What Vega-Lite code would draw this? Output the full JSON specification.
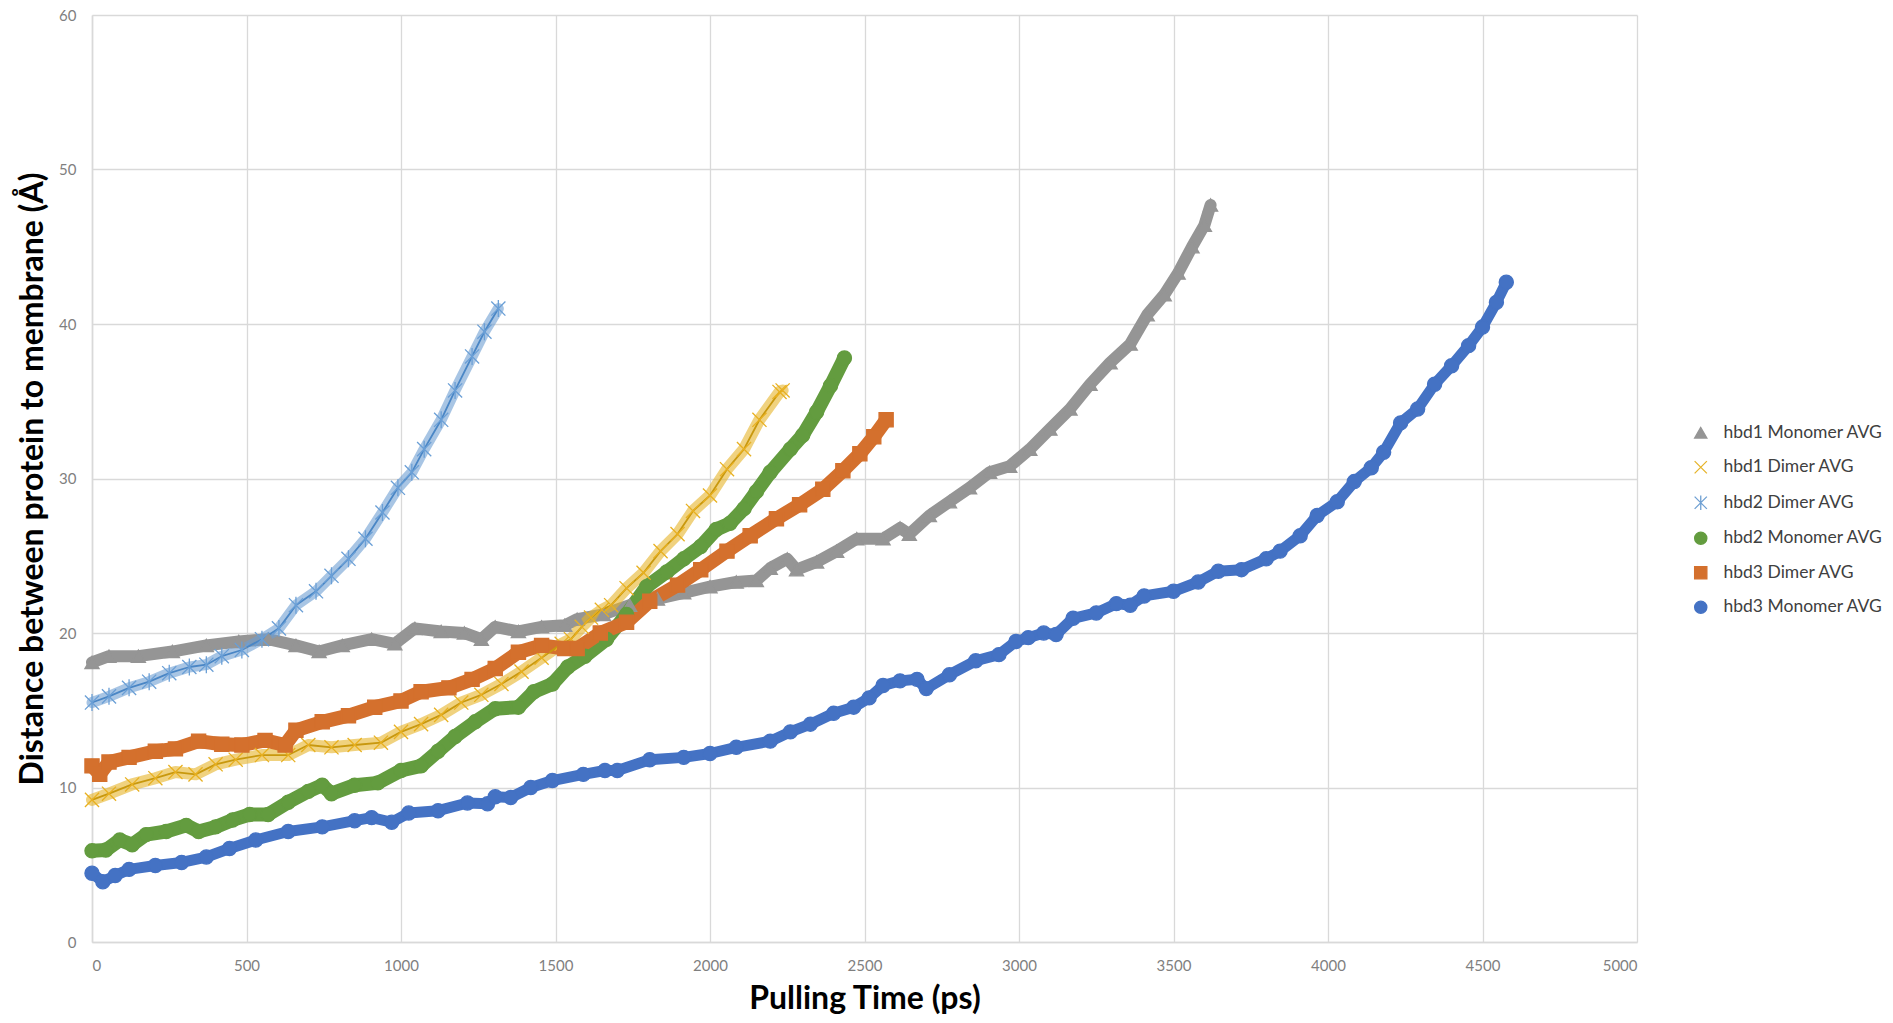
{
  "$schema": "https://vega.github.io/schema/vega-lite/v6.json",
  "autosize": {"type": "none"},
  "width": 1545,
  "height": 927,
  "padding": {"left": 92, "top": 15, "right": 256, "bottom": 81},
  "background": "white",
  "config": {
    "view": {"stroke": null},
    "font": "Lato",
    "legend": {"labelFont": "Lato", "labelFontSize": 17, "labelColor": "#404040", "symbolOpacity": 1}
  },
  "data": {
    "values": [
      {"series": "hbd1 Monomer AVG", "time": 0, "distance": 18.1},
      {"series": "hbd1 Monomer AVG", "time": 55, "distance": 18.5},
      {"series": "hbd1 Monomer AVG", "time": 150, "distance": 18.5},
      {"series": "hbd1 Monomer AVG", "time": 260, "distance": 18.8},
      {"series": "hbd1 Monomer AVG", "time": 370, "distance": 19.2},
      {"series": "hbd1 Monomer AVG", "time": 475, "distance": 19.45},
      {"series": "hbd1 Monomer AVG", "time": 570, "distance": 19.6},
      {"series": "hbd1 Monomer AVG", "time": 660, "distance": 19.2},
      {"series": "hbd1 Monomer AVG", "time": 735, "distance": 18.8},
      {"series": "hbd1 Monomer AVG", "time": 810, "distance": 19.2},
      {"series": "hbd1 Monomer AVG", "time": 905, "distance": 19.6},
      {"series": "hbd1 Monomer AVG", "time": 980, "distance": 19.3},
      {"series": "hbd1 Monomer AVG", "time": 1045, "distance": 20.3},
      {"series": "hbd1 Monomer AVG", "time": 1130, "distance": 20.1},
      {"series": "hbd1 Monomer AVG", "time": 1205, "distance": 20.0},
      {"series": "hbd1 Monomer AVG", "time": 1260, "distance": 19.6},
      {"series": "hbd1 Monomer AVG", "time": 1305, "distance": 20.4},
      {"series": "hbd1 Monomer AVG", "time": 1380, "distance": 20.1},
      {"series": "hbd1 Monomer AVG", "time": 1455, "distance": 20.4},
      {"series": "hbd1 Monomer AVG", "time": 1530, "distance": 20.5},
      {"series": "hbd1 Monomer AVG", "time": 1570, "distance": 20.9},
      {"series": "hbd1 Monomer AVG", "time": 1655, "distance": 21.2},
      {"series": "hbd1 Monomer AVG", "time": 1740, "distance": 21.8},
      {"series": "hbd1 Monomer AVG", "time": 1830, "distance": 22.2},
      {"series": "hbd1 Monomer AVG", "time": 1915, "distance": 22.6},
      {"series": "hbd1 Monomer AVG", "time": 2000, "distance": 23.0},
      {"series": "hbd1 Monomer AVG", "time": 2085, "distance": 23.3},
      {"series": "hbd1 Monomer AVG", "time": 2150, "distance": 23.4},
      {"series": "hbd1 Monomer AVG", "time": 2195, "distance": 24.2},
      {"series": "hbd1 Monomer AVG", "time": 2250, "distance": 24.8},
      {"series": "hbd1 Monomer AVG", "time": 2280, "distance": 24.1},
      {"series": "hbd1 Monomer AVG", "time": 2345, "distance": 24.6},
      {"series": "hbd1 Monomer AVG", "time": 2410, "distance": 25.3},
      {"series": "hbd1 Monomer AVG", "time": 2475, "distance": 26.1},
      {"series": "hbd1 Monomer AVG", "time": 2560, "distance": 26.1},
      {"series": "hbd1 Monomer AVG", "time": 2615, "distance": 26.8},
      {"series": "hbd1 Monomer AVG", "time": 2645, "distance": 26.4},
      {"series": "hbd1 Monomer AVG", "time": 2710, "distance": 27.6},
      {"series": "hbd1 Monomer AVG", "time": 2775, "distance": 28.5},
      {"series": "hbd1 Monomer AVG", "time": 2840, "distance": 29.4},
      {"series": "hbd1 Monomer AVG", "time": 2905, "distance": 30.4},
      {"series": "hbd1 Monomer AVG", "time": 2970, "distance": 30.8},
      {"series": "hbd1 Monomer AVG", "time": 3035, "distance": 31.9},
      {"series": "hbd1 Monomer AVG", "time": 3100, "distance": 33.2},
      {"series": "hbd1 Monomer AVG", "time": 3165, "distance": 34.5},
      {"series": "hbd1 Monomer AVG", "time": 3230, "distance": 36.1},
      {"series": "hbd1 Monomer AVG", "time": 3295, "distance": 37.5},
      {"series": "hbd1 Monomer AVG", "time": 3360, "distance": 38.7},
      {"series": "hbd1 Monomer AVG", "time": 3415, "distance": 40.6},
      {"series": "hbd1 Monomer AVG", "time": 3470, "distance": 41.9},
      {"series": "hbd1 Monomer AVG", "time": 3515, "distance": 43.3},
      {"series": "hbd1 Monomer AVG", "time": 3560, "distance": 45.0},
      {"series": "hbd1 Monomer AVG", "time": 3600, "distance": 46.4},
      {"series": "hbd1 Monomer AVG", "time": 3620, "distance": 47.7},

      {"series": "hbd1 Dimer AVG", "time": 0, "distance": 9.2},
      {"series": "hbd1 Dimer AVG", "time": 55, "distance": 9.6},
      {"series": "hbd1 Dimer AVG", "time": 130, "distance": 10.2},
      {"series": "hbd1 Dimer AVG", "time": 205, "distance": 10.6},
      {"series": "hbd1 Dimer AVG", "time": 270, "distance": 11.0},
      {"series": "hbd1 Dimer AVG", "time": 335, "distance": 10.85},
      {"series": "hbd1 Dimer AVG", "time": 400, "distance": 11.5},
      {"series": "hbd1 Dimer AVG", "time": 465, "distance": 11.8},
      {"series": "hbd1 Dimer AVG", "time": 550, "distance": 12.1},
      {"series": "hbd1 Dimer AVG", "time": 635, "distance": 12.1},
      {"series": "hbd1 Dimer AVG", "time": 700, "distance": 12.75},
      {"series": "hbd1 Dimer AVG", "time": 775, "distance": 12.6},
      {"series": "hbd1 Dimer AVG", "time": 850, "distance": 12.75},
      {"series": "hbd1 Dimer AVG", "time": 935, "distance": 12.9},
      {"series": "hbd1 Dimer AVG", "time": 1000, "distance": 13.6},
      {"series": "hbd1 Dimer AVG", "time": 1065, "distance": 14.1},
      {"series": "hbd1 Dimer AVG", "time": 1130, "distance": 14.7},
      {"series": "hbd1 Dimer AVG", "time": 1195, "distance": 15.5},
      {"series": "hbd1 Dimer AVG", "time": 1260, "distance": 16.0},
      {"series": "hbd1 Dimer AVG", "time": 1325, "distance": 16.7},
      {"series": "hbd1 Dimer AVG", "time": 1390, "distance": 17.5},
      {"series": "hbd1 Dimer AVG", "time": 1455, "distance": 18.4},
      {"series": "hbd1 Dimer AVG", "time": 1520, "distance": 19.3},
      {"series": "hbd1 Dimer AVG", "time": 1550, "distance": 19.6},
      {"series": "hbd1 Dimer AVG", "time": 1585, "distance": 20.4},
      {"series": "hbd1 Dimer AVG", "time": 1615, "distance": 21.0},
      {"series": "hbd1 Dimer AVG", "time": 1650, "distance": 21.5},
      {"series": "hbd1 Dimer AVG", "time": 1680, "distance": 21.8},
      {"series": "hbd1 Dimer AVG", "time": 1730, "distance": 22.9},
      {"series": "hbd1 Dimer AVG", "time": 1785, "distance": 23.9},
      {"series": "hbd1 Dimer AVG", "time": 1840, "distance": 25.3},
      {"series": "hbd1 Dimer AVG", "time": 1895, "distance": 26.4},
      {"series": "hbd1 Dimer AVG", "time": 1945, "distance": 27.9},
      {"series": "hbd1 Dimer AVG", "time": 2000, "distance": 28.9},
      {"series": "hbd1 Dimer AVG", "time": 2055, "distance": 30.6},
      {"series": "hbd1 Dimer AVG", "time": 2110, "distance": 31.9},
      {"series": "hbd1 Dimer AVG", "time": 2160, "distance": 33.8},
      {"series": "hbd1 Dimer AVG", "time": 2225, "distance": 35.6},
      {"series": "hbd1 Dimer AVG", "time": 2235, "distance": 35.7},

      {"series": "hbd2 Dimer AVG", "time": 0, "distance": 15.5},
      {"series": "hbd2 Dimer AVG", "time": 55, "distance": 15.9},
      {"series": "hbd2 Dimer AVG", "time": 120, "distance": 16.45},
      {"series": "hbd2 Dimer AVG", "time": 185, "distance": 16.85},
      {"series": "hbd2 Dimer AVG", "time": 250, "distance": 17.4},
      {"series": "hbd2 Dimer AVG", "time": 315, "distance": 17.8},
      {"series": "hbd2 Dimer AVG", "time": 370, "distance": 17.95},
      {"series": "hbd2 Dimer AVG", "time": 420, "distance": 18.5},
      {"series": "hbd2 Dimer AVG", "time": 485, "distance": 18.9},
      {"series": "hbd2 Dimer AVG", "time": 550, "distance": 19.6},
      {"series": "hbd2 Dimer AVG", "time": 605, "distance": 20.3},
      {"series": "hbd2 Dimer AVG", "time": 660, "distance": 21.8},
      {"series": "hbd2 Dimer AVG", "time": 725, "distance": 22.7},
      {"series": "hbd2 Dimer AVG", "time": 775, "distance": 23.7},
      {"series": "hbd2 Dimer AVG", "time": 830, "distance": 24.8},
      {"series": "hbd2 Dimer AVG", "time": 885, "distance": 26.1},
      {"series": "hbd2 Dimer AVG", "time": 940, "distance": 27.8},
      {"series": "hbd2 Dimer AVG", "time": 990, "distance": 29.4},
      {"series": "hbd2 Dimer AVG", "time": 1035, "distance": 30.4},
      {"series": "hbd2 Dimer AVG", "time": 1075, "distance": 31.9},
      {"series": "hbd2 Dimer AVG", "time": 1130, "distance": 33.8},
      {"series": "hbd2 Dimer AVG", "time": 1175, "distance": 35.7},
      {"series": "hbd2 Dimer AVG", "time": 1230, "distance": 37.9},
      {"series": "hbd2 Dimer AVG", "time": 1270, "distance": 39.5},
      {"series": "hbd2 Dimer AVG", "time": 1315, "distance": 41.0},

      {"series": "hbd2 Monomer AVG", "time": 0, "distance": 5.9},
      {"series": "hbd2 Monomer AVG", "time": 45, "distance": 5.95},
      {"series": "hbd2 Monomer AVG", "time": 90, "distance": 6.6},
      {"series": "hbd2 Monomer AVG", "time": 130, "distance": 6.3},
      {"series": "hbd2 Monomer AVG", "time": 175, "distance": 6.95},
      {"series": "hbd2 Monomer AVG", "time": 240, "distance": 7.15},
      {"series": "hbd2 Monomer AVG", "time": 305, "distance": 7.55},
      {"series": "hbd2 Monomer AVG", "time": 345, "distance": 7.15},
      {"series": "hbd2 Monomer AVG", "time": 400, "distance": 7.45},
      {"series": "hbd2 Monomer AVG", "time": 455, "distance": 7.9},
      {"series": "hbd2 Monomer AVG", "time": 510, "distance": 8.25},
      {"series": "hbd2 Monomer AVG", "time": 570, "distance": 8.25},
      {"series": "hbd2 Monomer AVG", "time": 635, "distance": 9.05},
      {"series": "hbd2 Monomer AVG", "time": 700, "distance": 9.75},
      {"series": "hbd2 Monomer AVG", "time": 745, "distance": 10.15},
      {"series": "hbd2 Monomer AVG", "time": 775, "distance": 9.6},
      {"series": "hbd2 Monomer AVG", "time": 850, "distance": 10.15},
      {"series": "hbd2 Monomer AVG", "time": 925, "distance": 10.3},
      {"series": "hbd2 Monomer AVG", "time": 1000, "distance": 11.1},
      {"series": "hbd2 Monomer AVG", "time": 1065, "distance": 11.4},
      {"series": "hbd2 Monomer AVG", "time": 1120, "distance": 12.35},
      {"series": "hbd2 Monomer AVG", "time": 1175, "distance": 13.3},
      {"series": "hbd2 Monomer AVG", "time": 1240, "distance": 14.25},
      {"series": "hbd2 Monomer AVG", "time": 1305, "distance": 15.1},
      {"series": "hbd2 Monomer AVG", "time": 1380, "distance": 15.2},
      {"series": "hbd2 Monomer AVG", "time": 1430, "distance": 16.2},
      {"series": "hbd2 Monomer AVG", "time": 1490, "distance": 16.7},
      {"series": "hbd2 Monomer AVG", "time": 1540, "distance": 17.8},
      {"series": "hbd2 Monomer AVG", "time": 1595, "distance": 18.5},
      {"series": "hbd2 Monomer AVG", "time": 1665, "distance": 19.6},
      {"series": "hbd2 Monomer AVG", "time": 1730, "distance": 21.2},
      {"series": "hbd2 Monomer AVG", "time": 1795, "distance": 23.0},
      {"series": "hbd2 Monomer AVG", "time": 1860, "distance": 23.95},
      {"series": "hbd2 Monomer AVG", "time": 1915, "distance": 24.8},
      {"series": "hbd2 Monomer AVG", "time": 1970, "distance": 25.6},
      {"series": "hbd2 Monomer AVG", "time": 2020, "distance": 26.7},
      {"series": "hbd2 Monomer AVG", "time": 2065, "distance": 27.1},
      {"series": "hbd2 Monomer AVG", "time": 2110, "distance": 28.05},
      {"series": "hbd2 Monomer AVG", "time": 2150, "distance": 29.15},
      {"series": "hbd2 Monomer AVG", "time": 2195, "distance": 30.4},
      {"series": "hbd2 Monomer AVG", "time": 2260, "distance": 31.9},
      {"series": "hbd2 Monomer AVG", "time": 2300, "distance": 32.8},
      {"series": "hbd2 Monomer AVG", "time": 2345, "distance": 34.3},
      {"series": "hbd2 Monomer AVG", "time": 2390, "distance": 36.0},
      {"series": "hbd2 Monomer AVG", "time": 2435, "distance": 37.8},

      {"series": "hbd3 Dimer AVG", "time": 0, "distance": 11.4},
      {"series": "hbd3 Dimer AVG", "time": 25, "distance": 10.85},
      {"series": "hbd3 Dimer AVG", "time": 55, "distance": 11.65},
      {"series": "hbd3 Dimer AVG", "time": 120, "distance": 11.95},
      {"series": "hbd3 Dimer AVG", "time": 205, "distance": 12.35},
      {"series": "hbd3 Dimer AVG", "time": 270, "distance": 12.5},
      {"series": "hbd3 Dimer AVG", "time": 345, "distance": 13.0},
      {"series": "hbd3 Dimer AVG", "time": 420, "distance": 12.8},
      {"series": "hbd3 Dimer AVG", "time": 485, "distance": 12.75},
      {"series": "hbd3 Dimer AVG", "time": 560, "distance": 13.05},
      {"series": "hbd3 Dimer AVG", "time": 625, "distance": 12.75},
      {"series": "hbd3 Dimer AVG", "time": 660, "distance": 13.7},
      {"series": "hbd3 Dimer AVG", "time": 745, "distance": 14.25},
      {"series": "hbd3 Dimer AVG", "time": 830, "distance": 14.65},
      {"series": "hbd3 Dimer AVG", "time": 915, "distance": 15.2},
      {"series": "hbd3 Dimer AVG", "time": 1000, "distance": 15.6},
      {"series": "hbd3 Dimer AVG", "time": 1065, "distance": 16.2},
      {"series": "hbd3 Dimer AVG", "time": 1155, "distance": 16.45},
      {"series": "hbd3 Dimer AVG", "time": 1230, "distance": 17.0},
      {"series": "hbd3 Dimer AVG", "time": 1305, "distance": 17.7},
      {"series": "hbd3 Dimer AVG", "time": 1380, "distance": 18.75},
      {"series": "hbd3 Dimer AVG", "time": 1455, "distance": 19.2},
      {"series": "hbd3 Dimer AVG", "time": 1530, "distance": 19.0},
      {"series": "hbd3 Dimer AVG", "time": 1570, "distance": 19.0},
      {"series": "hbd3 Dimer AVG", "time": 1645, "distance": 20.0},
      {"series": "hbd3 Dimer AVG", "time": 1730, "distance": 20.7},
      {"series": "hbd3 Dimer AVG", "time": 1805, "distance": 22.05},
      {"series": "hbd3 Dimer AVG", "time": 1895, "distance": 23.1},
      {"series": "hbd3 Dimer AVG", "time": 1970, "distance": 24.1},
      {"series": "hbd3 Dimer AVG", "time": 2055, "distance": 25.3},
      {"series": "hbd3 Dimer AVG", "time": 2130, "distance": 26.3},
      {"series": "hbd3 Dimer AVG", "time": 2215, "distance": 27.4},
      {"series": "hbd3 Dimer AVG", "time": 2290, "distance": 28.3},
      {"series": "hbd3 Dimer AVG", "time": 2365, "distance": 29.3},
      {"series": "hbd3 Dimer AVG", "time": 2430, "distance": 30.5},
      {"series": "hbd3 Dimer AVG", "time": 2485, "distance": 31.6},
      {"series": "hbd3 Dimer AVG", "time": 2530, "distance": 32.7},
      {"series": "hbd3 Dimer AVG", "time": 2570, "distance": 33.8},

      {"series": "hbd3 Monomer AVG", "time": 0, "distance": 4.45},
      {"series": "hbd3 Monomer AVG", "time": 35, "distance": 3.9},
      {"series": "hbd3 Monomer AVG", "time": 75, "distance": 4.3},
      {"series": "hbd3 Monomer AVG", "time": 120, "distance": 4.7},
      {"series": "hbd3 Monomer AVG", "time": 205, "distance": 4.95},
      {"series": "hbd3 Monomer AVG", "time": 290, "distance": 5.15},
      {"series": "hbd3 Monomer AVG", "time": 370, "distance": 5.5},
      {"series": "hbd3 Monomer AVG", "time": 445, "distance": 6.05},
      {"series": "hbd3 Monomer AVG", "time": 530, "distance": 6.6},
      {"series": "hbd3 Monomer AVG", "time": 635, "distance": 7.15},
      {"series": "hbd3 Monomer AVG", "time": 745, "distance": 7.45},
      {"series": "hbd3 Monomer AVG", "time": 850, "distance": 7.85},
      {"series": "hbd3 Monomer AVG", "time": 905, "distance": 8.05},
      {"series": "hbd3 Monomer AVG", "time": 970, "distance": 7.75},
      {"series": "hbd3 Monomer AVG", "time": 1025, "distance": 8.35},
      {"series": "hbd3 Monomer AVG", "time": 1120, "distance": 8.5},
      {"series": "hbd3 Monomer AVG", "time": 1215, "distance": 9.0},
      {"series": "hbd3 Monomer AVG", "time": 1280, "distance": 8.95},
      {"series": "hbd3 Monomer AVG", "time": 1305, "distance": 9.4},
      {"series": "hbd3 Monomer AVG", "time": 1355, "distance": 9.35},
      {"series": "hbd3 Monomer AVG", "time": 1420, "distance": 10.0},
      {"series": "hbd3 Monomer AVG", "time": 1490, "distance": 10.45},
      {"series": "hbd3 Monomer AVG", "time": 1590, "distance": 10.85},
      {"series": "hbd3 Monomer AVG", "time": 1660, "distance": 11.1},
      {"series": "hbd3 Monomer AVG", "time": 1700, "distance": 11.1},
      {"series": "hbd3 Monomer AVG", "time": 1805, "distance": 11.8},
      {"series": "hbd3 Monomer AVG", "time": 1915, "distance": 11.95},
      {"series": "hbd3 Monomer AVG", "time": 2000, "distance": 12.2},
      {"series": "hbd3 Monomer AVG", "time": 2085, "distance": 12.6},
      {"series": "hbd3 Monomer AVG", "time": 2195, "distance": 13.0},
      {"series": "hbd3 Monomer AVG", "time": 2260, "distance": 13.6},
      {"series": "hbd3 Monomer AVG", "time": 2325, "distance": 14.1},
      {"series": "hbd3 Monomer AVG", "time": 2400, "distance": 14.8},
      {"series": "hbd3 Monomer AVG", "time": 2465, "distance": 15.2},
      {"series": "hbd3 Monomer AVG", "time": 2515, "distance": 15.8},
      {"series": "hbd3 Monomer AVG", "time": 2560, "distance": 16.6},
      {"series": "hbd3 Monomer AVG", "time": 2615, "distance": 16.9},
      {"series": "hbd3 Monomer AVG", "time": 2670, "distance": 17.0},
      {"series": "hbd3 Monomer AVG", "time": 2700, "distance": 16.4},
      {"series": "hbd3 Monomer AVG", "time": 2775, "distance": 17.3},
      {"series": "hbd3 Monomer AVG", "time": 2860, "distance": 18.2},
      {"series": "hbd3 Monomer AVG", "time": 2935, "distance": 18.6},
      {"series": "hbd3 Monomer AVG", "time": 2990, "distance": 19.45},
      {"series": "hbd3 Monomer AVG", "time": 3030, "distance": 19.7},
      {"series": "hbd3 Monomer AVG", "time": 3080, "distance": 20.0},
      {"series": "hbd3 Monomer AVG", "time": 3120, "distance": 19.9},
      {"series": "hbd3 Monomer AVG", "time": 3175, "distance": 20.95},
      {"series": "hbd3 Monomer AVG", "time": 3250, "distance": 21.3},
      {"series": "hbd3 Monomer AVG", "time": 3315, "distance": 21.9},
      {"series": "hbd3 Monomer AVG", "time": 3360, "distance": 21.8},
      {"series": "hbd3 Monomer AVG", "time": 3405, "distance": 22.4},
      {"series": "hbd3 Monomer AVG", "time": 3500, "distance": 22.7},
      {"series": "hbd3 Monomer AVG", "time": 3580, "distance": 23.3},
      {"series": "hbd3 Monomer AVG", "time": 3645, "distance": 24.0},
      {"series": "hbd3 Monomer AVG", "time": 3720, "distance": 24.1},
      {"series": "hbd3 Monomer AVG", "time": 3800, "distance": 24.8},
      {"series": "hbd3 Monomer AVG", "time": 3845, "distance": 25.3},
      {"series": "hbd3 Monomer AVG", "time": 3910, "distance": 26.3},
      {"series": "hbd3 Monomer AVG", "time": 3965, "distance": 27.6},
      {"series": "hbd3 Monomer AVG", "time": 4030, "distance": 28.5},
      {"series": "hbd3 Monomer AVG", "time": 4085, "distance": 29.8},
      {"series": "hbd3 Monomer AVG", "time": 4140, "distance": 30.7},
      {"series": "hbd3 Monomer AVG", "time": 4180, "distance": 31.7},
      {"series": "hbd3 Monomer AVG", "time": 4235, "distance": 33.6},
      {"series": "hbd3 Monomer AVG", "time": 4290, "distance": 34.5},
      {"series": "hbd3 Monomer AVG", "time": 4345, "distance": 36.1},
      {"series": "hbd3 Monomer AVG", "time": 4400, "distance": 37.3},
      {"series": "hbd3 Monomer AVG", "time": 4455, "distance": 38.6},
      {"series": "hbd3 Monomer AVG", "time": 4500, "distance": 39.8},
      {"series": "hbd3 Monomer AVG", "time": 4545, "distance": 41.4},
      {"series": "hbd3 Monomer AVG", "time": 4577, "distance": 42.7}
    ]
  },
  "encoding": {
    "x": {
      "field": "time", "type": "quantitative",
      "scale": {"domain": [0, 5000], "nice": false, "zero": false},
      "axis": {
        "title": "Pulling Time (ps)", "format": "d",
        "values": [0, 500, 1000, 1500, 2000, 2500, 3000, 3500, 4000, 4500, 5000],
        "grid": true, "gridColor": "#D9D9D9", "gridWidth": 1.3,
        "domainColor": "#D9D9D9", "domainWidth": 1.6,
        "ticks": false, "tickSize": 0,
        "labelColor": "#7F7F7F", "labelFont": "Lato", "labelFontSize": 15, "labelPadding": 16,
        "titleFont": "Lato", "titleFontSize": 32, "titleFontWeight": "bold", "titleColor": "#000000", "titlePadding": 10
      }
    },
    "y": {
      "field": "distance", "type": "quantitative",
      "scale": {"domain": [0, 60], "nice": false},
      "axis": {
        "title": "Distance between protein to membrane (Å)", "format": "d",
        "values": [0, 10, 20, 30, 40, 50, 60],
        "grid": true, "gridColor": "#D9D9D9", "gridWidth": 1.3,
        "domainColor": "#D9D9D9", "domainWidth": 1.6,
        "ticks": false, "tickSize": 0,
        "labelColor": "#7F7F7F", "labelFont": "Lato", "labelFontSize": 15, "labelPadding": 16,
        "titleFont": "Lato", "titleFontSize": 32, "titleFontWeight": "bold", "titleColor": "#000000", "titlePadding": 9
      }
    }
  },
  "layer": [
    {
      "transform": [{"filter": "false"}],
      "mark": {"type": "point", "filled": true, "strokeWidth": 1.3, "opacity": 1},
      "encoding": {
        "color": {
          "field": "series", "type": "nominal",
          "scale": {
            "domain": ["hbd1 Monomer AVG", "hbd1 Dimer AVG", "hbd2 Dimer AVG", "hbd2 Monomer AVG", "hbd3 Dimer AVG", "hbd3 Monomer AVG"],
            "range": ["#959595", "#E6B42A", "#6E9FD2", "#639C3F", "#D4702D", "#4472C4"]
          },
          "legend": {
            "title": null, "orient": "none", "legendX": 1600, "legendY": 409,
            "labelFontSize": 17.5, "labelOffset": 14, "rowPadding": 15.5, "symbolSize": 150, "symbolStrokeWidth": 1.3, "symbolOpacity": 1
          }
        },
        "stroke": {
          "field": "series", "type": "nominal",
          "scale": {
            "domain": ["hbd1 Monomer AVG", "hbd1 Dimer AVG", "hbd2 Dimer AVG", "hbd2 Monomer AVG", "hbd3 Dimer AVG", "hbd3 Monomer AVG"],
            "range": ["#959595", "#E8B020", "#6A9FD6", "#639C3F", "#D4702D", "#4472C4"]
          },
          "legend": {
            "title": null, "orient": "none", "legendX": 1600, "legendY": 409,
            "labelFontSize": 17.5, "labelOffset": 14, "rowPadding": 15.5, "symbolSize": 150, "symbolStrokeWidth": 1.3, "symbolOpacity": 1
          }
        },
        "shape": {
          "field": "series", "type": "nominal",
          "scale": {
            "domain": ["hbd1 Monomer AVG", "hbd1 Dimer AVG", "hbd2 Dimer AVG", "hbd2 Monomer AVG", "hbd3 Dimer AVG", "hbd3 Monomer AVG"],
            "range": ["triangle-up", "M-1,-1L1,1M-1,1L1,-1", "M-1,-1L1,1M-1,1L1,-1M0,-1.2L0,1.2", "circle", "square", "circle"]
          },
          "legend": {
            "title": null, "orient": "none", "legendX": 1600, "legendY": 409,
            "labelFontSize": 17.5, "labelOffset": 14, "rowPadding": 15.5, "symbolSize": 150, "symbolStrokeWidth": 1.3, "symbolOpacity": 1
          }
        }
      }
    },
    {
      "mark": {"type": "line", "strokeCap": "round", "strokeJoin": "round"},
      "encoding": {
        "detail": {"field": "series"},
        "color": {"field": "series", "type": "nominal", "legend": null},
        "strokeWidth": {
          "field": "series", "type": "nominal", "legend": null,
          "scale": {
            "type": "ordinal",
            "domain": ["hbd3 Monomer AVG", "hbd3 Dimer AVG", "hbd2 Monomer AVG", "hbd2 Dimer AVG", "hbd1 Dimer AVG", "hbd1 Monomer AVG"],
            "range": [11, 14, 14, 11, 12, 12]
          }
        },
        "opacity": {
          "field": "series", "type": "nominal", "legend": null,
          "scale": {
            "type": "ordinal",
            "domain": ["hbd2 Dimer AVG", "hbd1 Dimer AVG", "hbd1 Monomer AVG", "hbd2 Monomer AVG", "hbd3 Dimer AVG", "hbd3 Monomer AVG"],
            "range": [0.6, 0.6, 1, 1, 1, 1]
          }
        }
      }
    },
    {
      "transform": [{"filter": "datum.series === 'hbd1 Dimer AVG'"}],
      "mark": {"type": "line", "color": "#C8980E", "strokeWidth": 1.8, "strokeJoin": "round"},
      "encoding": {}
    },
    {
      "transform": [{"filter": "datum.series === 'hbd2 Dimer AVG'"}],
      "mark": {"type": "line", "color": "#4A86C5", "strokeWidth": 1.8, "strokeJoin": "round"},
      "encoding": {}
    },
    {
      "mark": {"type": "point", "filled": true, "strokeWidth": 1.3, "size": 200, "opacity": 1},
      "encoding": {
        "color": {"field": "series", "type": "nominal"},
        "stroke": {"field": "series", "type": "nominal"},
        "shape": {"field": "series", "type": "nominal"}
      }
    }
  ]
}
